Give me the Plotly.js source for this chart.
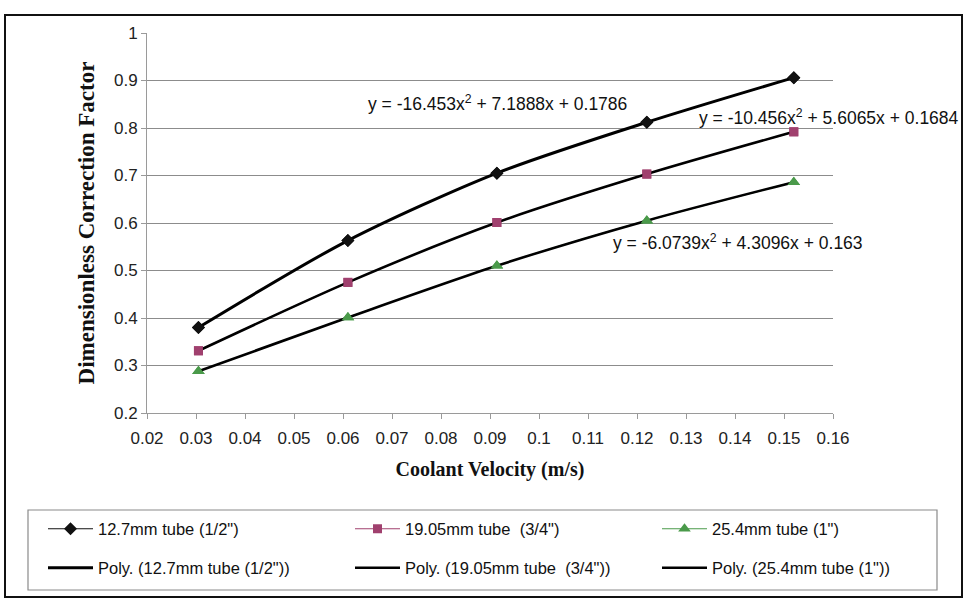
<!DOCTYPE html>
<html>
<head>
<meta charset="utf-8">
<script src="https://cdn.plot.ly/plotly-3.0.1.min.js"></script>
<style>
  html, body { margin: 0; padding: 0; background: #ffffff; }
  #chart { width: 965px; height: 599px; }
</style>
</head>
<body>
<div id="chart"></div>
<script>
// ---- data ----
var velocity = [0.0305, 0.061, 0.0914, 0.122, 0.152];
var tube127 = [0.380, 0.563, 0.705, 0.812, 0.906];
var tube1905 = [0.331, 0.475, 0.601, 0.703, 0.792];
var tube254 = [0.288, 0.401, 0.510, 0.605, 0.686];

var seriesNames = ['12.7mm tube (1/2")', '19.05mm tube  (3/4")', '25.4mm tube (1")'];
var polyNames = ['Poly. (12.7mm tube (1/2"))', 'Poly. (19.05mm tube  (3/4"))', 'Poly. (25.4mm tube (1"))'];
var equations = ['y = -16.453x<sup>2</sup> + 7.1888x + 0.1786',
                 'y = -10.456x<sup>2</sup> + 5.6065x + 0.1684',
                 'y = -6.0739x<sup>2</sup> + 4.3096x + 0.163'];

var xTickVals = [0.02, 0.03, 0.04, 0.05, 0.06, 0.07, 0.08, 0.09, 0.1, 0.11, 0.12, 0.13, 0.14, 0.15, 0.16];
var xTickText = ['0.02', '0.03', '0.04', '0.05', '0.06', '0.07', '0.08', '0.09', '0.1', '0.11', '0.12', '0.13', '0.14', '0.15', '0.16'];
var yTickVals = [0.2, 0.3, 0.4, 0.5, 0.6, 0.7, 0.8, 0.9, 1];
var yTickText = ['0.2', '0.3', '0.4', '0.5', '0.6', '0.7', '0.8', '0.9', '1'];

// ---- styling ----
var ys = [tube127, tube1905, tube254];
var colors = ['#111111', '#a0406e', '#4a9a4a'];
var symbols = ['diamond', 'square', 'triangle-up'];
var msize = [10, 9, 11];
var SANS = '"Liberation Sans", Arial, sans-serif';
var SERIF = '"Liberation Serif", "Times New Roman", serif';

var traces = [];
// data series (line + marker; line hidden under the trend line, legend shows line + marker)
for (var j = 0; j < 3; j++) {
  traces.push({
    x: velocity, y: ys[j], type: 'scatter', mode: 'lines+markers',
    name: seriesNames[j],
    line: {color: colors[j], width: 1.2, shape: 'spline', smoothing: 0.8},
    marker: {symbol: symbols[j], size: msize[j], color: colors[j]},
    legend: j === 0 ? 'legend' : 'legend' + (j + 1),
    hoverinfo: 'skip'
  });
}
// trend lines
for (var i = 0; i < 3; i++) {
  traces.push({
    x: velocity, y: ys[i], type: 'scatter', mode: 'lines',
    name: polyNames[i],
    line: {color: '#000000', width: i === 0 ? 3 : 2.6, shape: 'spline', smoothing: 0.8},
    legend: 'legend' + (i + 4),
    hoverinfo: 'skip'
  });
}
// markers redrawn on top of the trend lines
for (var k = 0; k < 3; k++) {
  traces.push({
    x: velocity, y: ys[k], type: 'scatter', mode: 'markers',
    name: seriesNames[k], showlegend: false,
    marker: {symbol: symbols[k], size: msize[k], color: colors[k]}
  });
}

// pixel -> paper helpers for layout placement
var L = 147, R = 833, T = 33, B = 413;
function px(x) { return (x - L) / (R - L); }
function py(y) { return (B - y) / (B - T); }

function legendAt(xp, yp) {
  return {
    x: px(xp), y: py(yp), xanchor: 'left', yanchor: 'middle',
    bgcolor: 'rgba(0,0,0,0)', borderwidth: 0, itemwidth: 45,
    font: {family: SANS, size: 16.5, color: '#111111'},
    itemclick: false, itemdoubleclick: false
  };
}

var layout = {
  width: 965, height: 599,
  margin: {l: L, r: 965 - R, t: T, b: 599 - B, autoexpand: false},
  paper_bgcolor: '#ffffff', plot_bgcolor: '#ffffff',
  showlegend: true,
  xaxis: {
    range: [0.02, 0.16], tickvals: xTickVals, ticktext: xTickText,
    showgrid: false, zeroline: false, showline: true, linecolor: '#9a9a9a', linewidth: 1,
    ticks: 'outside', ticklen: 5, tickcolor: '#9a9a9a', ticklabelstandoff: 5,
    tickfont: {family: SANS, size: 17, color: '#222222'},
    title: {text: 'Coolant Velocity (m/s)', font: {family: SERIF, size: 20, weight: 'bold', color: '#111111'}, standoff: 14}
  },
  yaxis: {
    range: [0.2, 1], tickvals: yTickVals, ticktext: yTickText,
    showgrid: true, gridcolor: '#8c8c8c', gridwidth: 1,
    zeroline: false, showline: true, linecolor: '#9a9a9a', linewidth: 1,
    ticks: 'outside', ticklen: 5, tickcolor: '#9a9a9a',
    tickfont: {family: SANS, size: 17, color: '#222222'},
    title: {text: 'Dimensionless Correction Factor', font: {family: SERIF, size: 23, weight: 'bold', color: '#111111'}, standoff: 12}
  },
  legend: legendAt(43, 529),
  legend2: legendAt(350, 529),
  legend3: legendAt(657, 529),
  legend4: legendAt(43, 568),
  legend5: legendAt(350, 568),
  legend6: legendAt(657, 568),
  annotations: [
    {xref: 'paper', yref: 'paper', x: px(497), y: py(103), text: equations[0], showarrow: false,
     font: {family: SANS, size: 17.5, color: '#111111'}, xanchor: 'center', yanchor: 'middle'},
    {xref: 'paper', yref: 'paper', x: px(829), y: py(117), text: equations[1], showarrow: false,
     font: {family: SANS, size: 17.5, color: '#111111'}, xanchor: 'center', yanchor: 'middle'},
    {xref: 'paper', yref: 'paper', x: px(738), y: py(242), text: equations[2], showarrow: false,
     font: {family: SANS, size: 17.5, color: '#111111'}, xanchor: 'center', yanchor: 'middle'}
  ],
  shapes: [
    {type: 'rect', xref: 'paper', yref: 'paper', x0: px(5), x1: px(962), y0: py(597), y1: py(15),
     line: {color: '#111111', width: 2}, fillcolor: 'rgba(0,0,0,0)', layer: 'below'},
    {type: 'rect', xref: 'paper', yref: 'paper', x0: px(28), x1: px(937), y0: py(590), y1: py(510),
     line: {color: '#8a8a8a', width: 1.2}, fillcolor: 'rgba(0,0,0,0)', layer: 'below'}
  ]
};

Plotly.newPlot('chart', traces, layout, {displayModeBar: false, staticPlot: true});
</script>
</body>
</html>
